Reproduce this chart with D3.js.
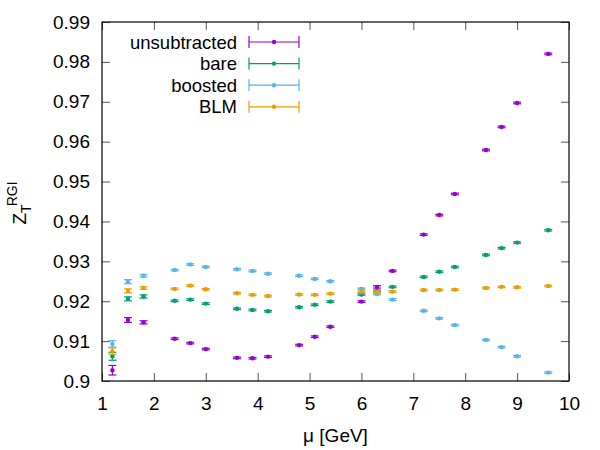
<!DOCTYPE html>
<html>
<head>
<meta charset="utf-8">
<script src="https://cdn.jsdelivr.net/npm/d3@7"></script>
<style>
  body { margin: 0; background: #fff; }
  text { font-family: "Liberation Sans", Arial, sans-serif; }
</style>
</head>
<body>
<div id="chart"></div>
<script>
// scale values (GeV)
const mu = [1.2, 1.5, 1.8, 2.4, 2.7, 3.0, 3.6, 3.9, 4.2, 4.8, 5.1, 5.4, 6.0, 6.3, 6.6, 7.2, 7.5, 7.8, 8.4, 8.7, 9.0, 9.6];

const unsubtracted = [0.9027, 0.9153, 0.9147, 0.9106, 0.9095, 0.9080, 0.9058, 0.9057, 0.9061, 0.9090, 0.9111, 0.9136, 0.9199, 0.9236, 0.9276, 0.9367, 0.9416, 0.9469, 0.9579, 0.9637, 0.9697, 0.9820];
const unsubtractedErr = [0.0012, 0.0006, 0.0004, 0.0002, 0.0002, 0.0002, 0.0002, 0.0002, 0.0002, 0.0002, 0.0002, 0.0002, 0.0002, 0.0003, 0.0002, 0.0002, 0.0002, 0.0002, 0.0002, 0.0002, 0.0002, 0.0002];

const bare = [0.9062, 0.9206, 0.9212, 0.9201, 0.9204, 0.9194, 0.9181, 0.9178, 0.9175, 0.9185, 0.9191, 0.9199, 0.9217, 0.9226, 0.9236, 0.9261, 0.9274, 0.9286, 0.9316, 0.9333, 0.9347, 0.9378];
const bareErr = [0.0010, 0.0005, 0.0004, 0.0002, 0.0002, 0.0002, 0.0002, 0.0002, 0.0002, 0.0002, 0.0002, 0.0002, 0.0002, 0.0002, 0.0002, 0.0002, 0.0002, 0.0002, 0.0002, 0.0002, 0.0002, 0.0002];

const boosted = [0.9093, 0.9249, 0.9264, 0.9278, 0.9292, 0.9286, 0.9280, 0.9276, 0.9269, 0.9264, 0.9256, 0.9250, 0.9231, 0.9218, 0.9204, 0.9176, 0.9157, 0.9140, 0.9103, 0.9085, 0.9062, 0.9021];
const boostedErr = [0.0008, 0.0005, 0.0003, 0.0002, 0.0002, 0.0002, 0.0002, 0.0002, 0.0002, 0.0002, 0.0002, 0.0002, 0.0002, 0.0002, 0.0002, 0.0002, 0.0002, 0.0002, 0.0002, 0.0002, 0.0002, 0.0002];

const blm = [0.9075, 0.9226, 0.9233, 0.9231, 0.9239, 0.9230, 0.9220, 0.9216, 0.9213, 0.9217, 0.9216, 0.9219, 0.9223, 0.9223, 0.9224, 0.9228, 0.9228, 0.9229, 0.9233, 0.9236, 0.9235, 0.9238];
const blmErr = [0.0008, 0.0005, 0.0003, 0.0002, 0.0002, 0.0002, 0.0002, 0.0002, 0.0002, 0.0002, 0.0002, 0.0002, 0.0002, 0.0002, 0.0002, 0.0002, 0.0002, 0.0002, 0.0002, 0.0002, 0.0002, 0.0002];

const seriesNames = ["unsubtracted", "bare", "boosted", "BLM"];
const seriesColors = ["#9400d3", "#009e73", "#56b4e9", "#e69f00"];

const xTicks = [1, 2, 3, 4, 5, 6, 7, 8, 9, 10];
const yTicks = [0.9, 0.91, 0.92, 0.93, 0.94, 0.95, 0.96, 0.97, 0.98, 0.99];

const series = [
    { name: seriesNames[0], color: seriesColors[0], y: unsubtracted, err: unsubtractedErr },
    { name: seriesNames[1], color: seriesColors[1], y: bare, err: bareErr },
    { name: seriesNames[2], color: seriesColors[2], y: boosted, err: boostedErr },
    { name: seriesNames[3], color: seriesColors[3], y: blm, err: blmErr }
];

// layout
const W = 600, H = 450;
const margin = { top: 22, right: 31, bottom: 69, left: 102 };
const width = W - margin.left - margin.right;
const height = H - margin.top - margin.bottom;

const svg = d3.select("#chart")
    .append("svg")
    .attr("width", W)
    .attr("height", H);

const g = svg.append("g")
    .attr("transform", `translate(${margin.left}, ${margin.top})`);

const xScale = d3.scaleLinear().domain([1, 10]).range([0, width]);
const yScale = d3.scaleLinear().domain([0.9, 0.99]).range([height, 0]);

// inward ticks on all four sides (gnuplot style)
const tickLen = 8;
g.append("g").attr("transform", `translate(0, ${height})`)
    .call(d3.axisBottom(xScale).tickValues(xTicks).tickSizeInner(-tickLen).tickSizeOuter(0).tickPadding(16).tickFormat(d3.format("d")));
g.append("g").attr("transform", `translate(0, 0)`)
    .call(d3.axisTop(xScale).tickValues(xTicks).tickSizeInner(-tickLen).tickSizeOuter(0).tickFormat(""));
g.append("g")
    .call(d3.axisLeft(yScale).tickValues(yTicks).tickSizeInner(-tickLen).tickSizeOuter(0).tickPadding(12).tickFormat(d => String(+d.toFixed(2))));
g.append("g").attr("transform", `translate(${width}, 0)`)
    .call(d3.axisRight(yScale).tickValues(yTicks).tickSizeInner(-tickLen).tickSizeOuter(0).tickFormat(""));

g.selectAll(".domain").remove();
g.selectAll(".tick line").attr("stroke", "#555").attr("stroke-width", 1);
g.selectAll(".tick text").attr("fill", "#000").style("font-size", "19px");

// frame
g.append("rect")
    .attr("x", 0).attr("y", 0)
    .attr("width", width).attr("height", height)
    .attr("fill", "none")
    .attr("stroke", "#000")
    .attr("stroke-width", 1.2);

// error bars + points
const cap = 4;
series.forEach(s => {
    const grp = g.append("g");
    const pts = mu.map((m, i) => ({ x: m, y: s.y[i], e: s.err[i] }));
    const p = grp.selectAll("g.pt").data(pts).enter().append("g").attr("class", "pt");
    p.append("line")
        .attr("x1", d => xScale(d.x)).attr("x2", d => xScale(d.x))
        .attr("y1", d => yScale(d.y - d.e)).attr("y2", d => yScale(d.y + d.e))
        .attr("stroke", s.color).attr("stroke-width", 1.2);
    p.append("line")
        .attr("x1", d => xScale(d.x) - cap).attr("x2", d => xScale(d.x) + cap)
        .attr("y1", d => yScale(d.y - d.e)).attr("y2", d => yScale(d.y - d.e))
        .attr("stroke", s.color).attr("stroke-width", 1.2);
    p.append("line")
        .attr("x1", d => xScale(d.x) - cap).attr("x2", d => xScale(d.x) + cap)
        .attr("y1", d => yScale(d.y + d.e)).attr("y2", d => yScale(d.y + d.e))
        .attr("stroke", s.color).attr("stroke-width", 1.2);
    p.append("circle")
        .attr("cx", d => xScale(d.x)).attr("cy", d => yScale(d.y))
        .attr("r", 2.2)
        .attr("fill", s.color);
});

// legend
const legend = svg.append("g");
series.forEach((s, i) => {
    const cy = 42 + i * 21.6;
    legend.append("text")
        .text(s.name)
        .attr("x", 237).attr("y", cy + 6.5)
        .attr("text-anchor", "end")
        .style("font-size", "18.5px");
    legend.append("line")
        .attr("x1", 249).attr("x2", 299).attr("y1", cy).attr("y2", cy)
        .attr("stroke", s.color).attr("stroke-width", 1.2);
    [249, 299].forEach(xx => legend.append("line")
        .attr("x1", xx).attr("x2", xx).attr("y1", cy - 6).attr("y2", cy + 6)
        .attr("stroke", s.color).attr("stroke-width", 1.2));
    legend.append("circle").attr("cx", 274).attr("cy", cy).attr("r", 2.2).attr("fill", s.color);
});

// axis titles
svg.append("text")
    .text("μ [GeV]")
    .attr("x", margin.left + width / 2)
    .attr("y", 442)
    .attr("text-anchor", "middle")
    .style("font-size", "19px");

const yl = svg.append("text")
    .attr("transform", "translate(26, 203) rotate(-90)")
    .attr("text-anchor", "middle")
    .style("font-size", "19px");
yl.append("tspan").text("Z");
yl.append("tspan").text("T").attr("dy", 5).style("font-size", "14px");
yl.append("tspan").text("RGI").attr("dy", -14).attr("dx", -2).style("font-size", "14px");
</script>
</body>
</html>
